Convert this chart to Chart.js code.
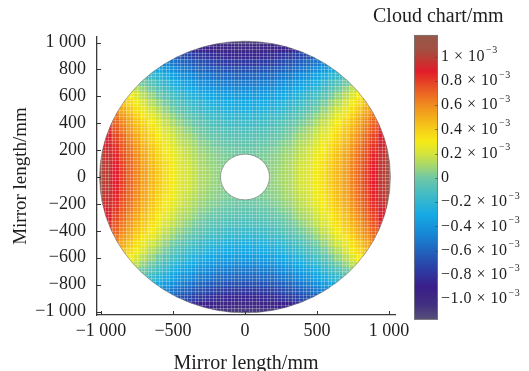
<!DOCTYPE html>
<html>
<head>
<meta charset="utf-8">
<script src="https://cdn.jsdelivr.net/npm/chart.js@4.4.1/dist/chart.umd.min.js"></script>
<style>
  html, body { margin: 0; padding: 0; background: #ffffff; overflow: hidden; }
  canvas { display: block; }
</style>
</head>
<body>
<canvas id="mirror" width="529" height="371"></canvas>
<script>
// Mesh node coordinates of the mirror surface (mm)
const gridX = [-1000,-950,-900,-850,-800,-750,-700,-650,-600,-550,-500,-450,-400,-350,-300,-250,-200,-150,-100,-50,0,
               50,100,150,200,250,300,350,400,450,500,550,600,650,700,750,800,850,900,950,1000];
const gridY = [1000,950,900,850,800,750,700,650,600,550,500,450,400,350,300,250,200,150,100,50,0,
               -50,-100,-150,-200,-250,-300,-350,-400,-450,-500,-550,-600,-650,-700,-750,-800,-850,-900,-950,-1000];

// Surface deviation at each mesh cell, in units of 0.01 × 10⁻³ mm (null = no glass)
const surface = [
  [null,null,null,null,null,null,null,null,null,null,null,null,null,null,null,-102,-105,-107,-108,-109,-109,-109,-108,-107,-105,-102,null,null,null,null,null,null,null,null,null,null,null,null,null,null,null],
  [null,null,null,null,null,null,null,null,null,null,null,null,-81,-85,-89,-92,-94,-96,-97,-98,-98,-98,-97,-96,-94,-92,-89,-85,-81,null,null,null,null,null,null,null,null,null,null,null,null],
  [null,null,null,null,null,null,null,null,null,null,-61,-66,-71,-75,-78,-81,-84,-85,-87,-87,-88,-87,-87,-85,-84,-81,-78,-75,-71,-66,-61,null,null,null,null,null,null,null,null,null,null],
  [null,null,null,null,null,null,null,null,-40,-46,-52,-57,-61,-65,-68,-71,-74,-76,-77,-78,-78,-78,-77,-76,-74,-71,-68,-65,-61,-57,-52,-46,-40,null,null,null,null,null,null,null,null],
  [null,null,null,null,null,null,null,-24,-31,-37,-42,-47,-52,-56,-59,-62,-64,-66,-68,-68,-69,-68,-68,-66,-64,-62,-59,-56,-52,-47,-42,-37,-31,-24,null,null,null,null,null,null,null],
  [null,null,null,null,null,null,-9,-16,-22,-28,-34,-39,-43,-47,-51,-53,-56,-58,-59,-60,-60,-60,-59,-58,-56,-53,-51,-47,-43,-39,-34,-28,-22,-16,-9,null,null,null,null,null,null],
  [null,null,null,null,null,7,0,-8,-14,-20,-26,-31,-35,-39,-42,-45,-48,-50,-51,-52,-52,-52,-51,-50,-48,-45,-42,-39,-35,-31,-26,-20,-14,-8,0,7,null,null,null,null,null],
  [null,null,null,null,23,15,7,0,-7,-13,-18,-23,-28,-31,-35,-38,-40,-42,-43,-44,-44,-44,-43,-42,-40,-38,-35,-31,-28,-23,-18,-13,-7,0,7,15,23,null,null,null,null],
  [null,null,null,39,30,22,14,7,0,-6,-11,-16,-21,-24,-28,-31,-33,-35,-36,-37,-37,-37,-36,-35,-33,-31,-28,-24,-21,-16,-11,-6,0,7,14,22,30,39,null,null,null],
  [null,null,null,45,36,28,21,13,7,1,-5,-10,-14,-18,-21,-24,-27,-29,-30,-31,-31,-31,-30,-29,-27,-24,-21,-18,-14,-10,-5,1,7,13,21,28,36,45,null,null,null],
  [null,null,60,51,42,34,26,19,13,7,1,-4,-8,-12,-16,-18,-21,-23,-24,-25,-25,-25,-24,-23,-21,-18,-16,-12,-8,-4,1,7,13,19,26,34,42,51,60,null,null],
  [null,null,65,56,48,39,32,25,18,12,7,2,-3,-7,-10,-13,-15,-17,-19,-19,-20,-19,-19,-17,-15,-13,-10,-7,-3,2,7,12,18,25,32,39,48,56,65,null,null],
  [null,80,70,61,52,44,37,29,23,17,11,6,2,-2,-5,-8,-11,-13,-14,-15,-15,-15,-14,-13,-11,-8,-5,-2,2,6,11,17,23,29,37,44,52,61,70,80,null],
  [null,84,74,65,56,48,41,34,27,21,16,11,6,2,-1,-4,-7,-8,-10,-10,-11,-10,-10,-8,-7,-4,-1,2,6,11,16,21,27,34,41,48,56,65,74,84,null],
  [null,88,78,69,60,52,44,37,31,25,19,14,10,6,2,-1,-3,-5,-6,-7,-7,-7,-6,-5,-3,-1,2,6,10,14,19,25,31,37,44,52,60,69,78,88,null],
  [101,91,81,72,63,55,47,40,34,28,22,17,13,9,5,3,0,-2,-3,-4,-4,-4,-3,-2,0,3,5,9,13,17,22,28,34,40,47,55,63,72,81,91,101],
  [104,93,84,74,66,58,50,43,36,30,25,20,15,11,8,5,3,1,0,-1,-1,-1,0,1,3,5,8,11,15,20,25,30,36,43,50,58,66,74,84,93,104],
  [105,95,86,76,68,60,52,45,38,32,27,22,17,13,10,7,5,3,2,1,0,1,2,3,5,7,10,13,17,22,27,32,38,45,52,60,68,76,86,95,105],
  [107,97,87,78,69,61,53,46,40,34,28,23,19,15,11,8,6,4,3,null,null,null,3,4,6,8,11,15,19,23,28,34,40,46,53,61,69,78,87,97,107],
  [108,97,88,79,70,62,54,47,41,34,29,24,20,16,12,9,7,5,null,null,null,null,null,5,7,9,12,16,20,24,29,34,41,47,54,62,70,79,88,97,108],
  [108,98,88,79,70,62,54,47,41,35,29,24,20,16,12,10,7,5,null,null,null,null,null,5,7,10,12,16,20,24,29,35,41,47,54,62,70,79,88,98,108],
  [108,97,88,79,70,62,54,47,41,34,29,24,20,16,12,9,7,5,null,null,null,null,null,5,7,9,12,16,20,24,29,34,41,47,54,62,70,79,88,97,108],
  [107,97,87,78,69,61,53,46,40,34,28,23,19,15,11,8,6,4,3,null,null,null,3,4,6,8,11,15,19,23,28,34,40,46,53,61,69,78,87,97,107],
  [105,95,86,76,68,60,52,45,38,32,27,22,17,13,10,7,5,3,2,1,0,1,2,3,5,7,10,13,17,22,27,32,38,45,52,60,68,76,86,95,105],
  [104,93,84,74,66,58,50,43,36,30,25,20,15,11,8,5,3,1,0,-1,-1,-1,0,1,3,5,8,11,15,20,25,30,36,43,50,58,66,74,84,93,104],
  [101,91,81,72,63,55,47,40,34,28,22,17,13,9,5,3,0,-2,-3,-4,-4,-4,-3,-2,0,3,5,9,13,17,22,28,34,40,47,55,63,72,81,91,101],
  [null,88,78,69,60,52,44,37,31,25,19,14,10,6,2,-1,-3,-5,-6,-7,-7,-7,-6,-5,-3,-1,2,6,10,14,19,25,31,37,44,52,60,69,78,88,null],
  [null,84,74,65,56,48,41,34,27,21,16,11,6,2,-1,-4,-7,-8,-10,-10,-11,-10,-10,-8,-7,-4,-1,2,6,11,16,21,27,34,41,48,56,65,74,84,null],
  [null,80,70,61,52,44,37,29,23,17,11,6,2,-2,-5,-8,-11,-13,-14,-15,-15,-15,-14,-13,-11,-8,-5,-2,2,6,11,17,23,29,37,44,52,61,70,80,null],
  [null,null,65,56,48,39,32,25,18,12,7,2,-3,-7,-10,-13,-15,-17,-19,-19,-20,-19,-19,-17,-15,-13,-10,-7,-3,2,7,12,18,25,32,39,48,56,65,null,null],
  [null,null,60,51,42,34,26,19,13,7,1,-4,-8,-12,-16,-18,-21,-23,-24,-25,-25,-25,-24,-23,-21,-18,-16,-12,-8,-4,1,7,13,19,26,34,42,51,60,null,null],
  [null,null,null,45,36,28,21,13,7,1,-5,-10,-14,-18,-21,-24,-27,-29,-30,-31,-31,-31,-30,-29,-27,-24,-21,-18,-14,-10,-5,1,7,13,21,28,36,45,null,null,null],
  [null,null,null,39,30,22,14,7,0,-6,-11,-16,-21,-24,-28,-31,-33,-35,-36,-37,-37,-37,-36,-35,-33,-31,-28,-24,-21,-16,-11,-6,0,7,14,22,30,39,null,null,null],
  [null,null,null,null,23,15,7,0,-7,-13,-18,-23,-28,-31,-35,-38,-40,-42,-43,-44,-44,-44,-43,-42,-40,-38,-35,-31,-28,-23,-18,-13,-7,0,7,15,23,null,null,null,null],
  [null,null,null,null,null,7,0,-8,-14,-20,-26,-31,-35,-39,-42,-45,-48,-50,-51,-52,-52,-52,-51,-50,-48,-45,-42,-39,-35,-31,-26,-20,-14,-8,0,7,null,null,null,null,null],
  [null,null,null,null,null,null,-9,-16,-22,-28,-34,-39,-43,-47,-51,-53,-56,-58,-59,-60,-60,-60,-59,-58,-56,-53,-51,-47,-43,-39,-34,-28,-22,-16,-9,null,null,null,null,null,null],
  [null,null,null,null,null,null,null,-24,-31,-37,-42,-47,-52,-56,-59,-62,-64,-66,-68,-68,-69,-68,-68,-66,-64,-62,-59,-56,-52,-47,-42,-37,-31,-24,null,null,null,null,null,null,null],
  [null,null,null,null,null,null,null,null,-40,-46,-52,-57,-61,-65,-68,-71,-74,-76,-77,-78,-78,-78,-77,-76,-74,-71,-68,-65,-61,-57,-52,-46,-40,null,null,null,null,null,null,null,null],
  [null,null,null,null,null,null,null,null,null,null,-61,-66,-71,-75,-78,-81,-84,-85,-87,-87,-88,-87,-87,-85,-84,-81,-78,-75,-71,-66,-61,null,null,null,null,null,null,null,null,null,null],
  [null,null,null,null,null,null,null,null,null,null,null,null,-81,-85,-89,-92,-94,-96,-97,-98,-98,-98,-97,-96,-94,-92,-89,-85,-81,null,null,null,null,null,null,null,null,null,null,null,null],
  [null,null,null,null,null,null,null,null,null,null,null,null,null,null,null,-102,-105,-107,-108,-109,-109,-109,-108,-107,-105,-102,null,null,null,null,null,null,null,null,null,null,null,null,null,null,null]
];

// Mirror aperture (mm)
const mirrorRadius = 1010;
const holeRadius = 170;

// Axis ticks
const xTickValues = [-1000, -500, 0, 500, 1000];
const xTickLabels = ['−1 000', '−500', '0', '500', '1 000'];
const yTickValues = [-1000, -800, -600, -400, -200, 0, 200, 400, 600, 800, 1000];
const yTickLabels = ['−1 000', '−800', '−600', '−400', '−200', '0', '200', '400', '600', '800', '1 000'];

// Colour bar ticks (× 10⁻³ mm): mantissa text and the shared power-of-ten exponent
const cbTickValues = [-1.0, -0.8, -0.6, -0.4, -0.2, 0, 0.2, 0.4, 0.6, 0.8, 1.0];
const cbTickLabels = ['−1.0 × 10', '−0.8 × 10', '−0.6 × 10', '−0.4 × 10', '−0.2 × 10', '0',
                      '0.2 × 10', '0.4 × 10', '0.6 × 10', '0.8 × 10', '1 × 10'];
const cbExponent = '−3';
const cbRange = [-1.17, 1.18];

const xTitle = 'Mirror length/mm';
const yTitle = 'Mirror length/mm';
const cbTitle = 'Cloud chart/mm';

// Colour map: [value (× 10⁻³ mm), r, g, b]
const colorStops = [
  [-1.17,  88,  80, 122],
  [-1.05,  66,  48, 128],
  [-0.90,  58,  30, 138],
  [-0.75,  44,  62, 165],
  [-0.60,  32, 100, 190],
  [-0.45,  22, 138, 214],
  [-0.30,  22, 170, 228],
  [-0.15,  62, 186, 200],
  [ 0.00, 112, 200, 165],
  [ 0.10, 165, 215, 110],
  [ 0.20, 212, 228,  60],
  [ 0.30, 246, 234,  22],
  [ 0.45, 246, 190,  26],
  [ 0.60, 240, 140,  32],
  [ 0.75, 232,  82,  36],
  [ 0.88, 226,  28,  42],
  [ 0.97, 192,  56,  50],
  [ 1.06, 162,  80,  66],
  [ 1.18, 150,  88,  72]
];

function colorFor(v) {
  if (v <= colorStops[0][0]) return `rgb(${colorStops[0][1]},${colorStops[0][2]},${colorStops[0][3]})`;
  for (let k = 1; k < colorStops.length; k++) {
    const a = colorStops[k - 1], b = colorStops[k];
    if (v <= b[0]) {
      const t = (v - a[0]) / (b[0] - a[0]);
      const c = [1, 2, 3].map(n => Math.round(a[n] + (b[n] - a[n]) * t));
      return `rgb(${c[0]},${c[1]},${c[2]})`;
    }
  }
  const l = colorStops[colorStops.length - 1];
  return `rgb(${l[1]},${l[2]},${l[3]})`;
}

const serif = '"Liberation Serif", "Times New Roman", Times, serif';
const textColor = '#1e1e1e';
Chart.defaults.font.family = serif;
Chart.defaults.color = textColor;

// Clip path of the annular mirror, in pixels
function annulusPath(ctx, xs, ys) {
  const cx = xs.getPixelForValue(0), cy = ys.getPixelForValue(0);
  const rx = xs.getPixelForValue(mirrorRadius) - cx;
  const ry = cy - ys.getPixelForValue(mirrorRadius);
  const hx = xs.getPixelForValue(holeRadius) - cx;
  const hy = cy - ys.getPixelForValue(holeRadius);
  ctx.beginPath();
  ctx.ellipse(cx, cy, rx, ry, 0, 0, Math.PI * 2);
  ctx.moveTo(cx + hx, cy);
  ctx.ellipse(cx, cy, hx, hy, 0, 0, Math.PI * 2, true);
}

const surfacePlugin = {
  id: 'surfaceCells',
  beforeDatasetsDraw(chart) {
    const { ctx } = chart;
    const xs = chart.scales.x, ys = chart.scales.y;
    const halfX = (gridX[1] - gridX[0]) / 2;
    const halfY = Math.abs(gridY[0] - gridY[1]) / 2;
    ctx.save();
    annulusPath(ctx, xs, ys);
    ctx.clip('evenodd');
    surface.forEach((row, j) => {
      row.forEach((v, i) => {
        if (v === null) return;
        const l = xs.getPixelForValue(gridX[i] - halfX);
        const r = xs.getPixelForValue(gridX[i] + halfX);
        const t = ys.getPixelForValue(gridY[j] + halfY);
        const b = ys.getPixelForValue(gridY[j] - halfY);
        ctx.fillStyle = colorFor(v / 100);
        ctx.fillRect(Math.floor(l), Math.floor(t), Math.ceil(r - l) + 1, Math.ceil(b - t) + 1);
      });
    });
    // fine mesh lines of the finite-element grid
    ctx.strokeStyle = 'rgba(255,255,255,0.26)';
    ctx.lineWidth = 1;
    ctx.beginPath();
    for (let m = -1025; m <= 1025; m += 25) {
      const px = Math.round(xs.getPixelForValue(m)) + 0.5;
      ctx.moveTo(px, ys.top); ctx.lineTo(px, ys.bottom);
      const py = Math.round(ys.getPixelForValue(m)) + 0.5;
      ctx.moveTo(xs.left, py); ctx.lineTo(xs.right, py);
    }
    ctx.stroke();
    ctx.restore();
    // aperture outlines
    ctx.save();
    annulusPath(ctx, xs, ys);
    ctx.strokeStyle = 'rgba(110,110,110,0.55)';
    ctx.lineWidth = 1;
    ctx.stroke();
    ctx.restore();
  },
  afterDraw(chart) {
    const { ctx } = chart;
    const xs = chart.scales.x, ys = chart.scales.y, cb = chart.scales.cb;
    ctx.save();
    // inward tick marks on the frame axes
    ctx.strokeStyle = '#333';
    ctx.lineWidth = 1;
    ctx.beginPath();
    xs.ticks.forEach(t => {
      const px = Math.round(xs.getPixelForValue(t.value)) + 0.5;
      ctx.moveTo(px, xs.top); ctx.lineTo(px, xs.top - 4);
    });
    ys.ticks.forEach(t => {
      const py = Math.round(ys.getPixelForValue(t.value)) + 0.5;
      ctx.moveTo(ys.right, py); ctx.lineTo(ys.right + 4, py);
    });
    ctx.stroke();

    // colour bar
    const barL = cb.left + 19, barR = cb.left + 43;
    const top = cb.getPixelForValue(cbRange[1]);
    const bot = cb.getPixelForValue(cbRange[0]);
    const grad = ctx.createLinearGradient(0, bot, 0, top);
    colorStops.forEach(s => {
      const f = (s[0] - cbRange[0]) / (cbRange[1] - cbRange[0]);
      grad.addColorStop(Math.min(1, Math.max(0, f)), `rgb(${s[1]},${s[2]},${s[3]})`);
    });
    ctx.fillStyle = grad;
    ctx.fillRect(barL, top, barR - barL, bot - top);
    ctx.strokeStyle = 'rgba(120,120,120,0.8)';
    ctx.strokeRect(barL + 0.5, Math.round(top) + 0.5, barR - barL - 1, Math.round(bot - top) - 1);
    ctx.strokeStyle = 'rgba(70,70,70,0.6)';
    ctx.beginPath();
    cb.ticks.forEach(t => {
      const py = Math.round(cb.getPixelForValue(t.value)) + 0.5;
      ctx.moveTo(barR - 3, py); ctx.lineTo(barR, py);
    });
    ctx.stroke();

    // colour bar tick labels with superscript exponent
    ctx.fillStyle = textColor;
    ctx.textAlign = 'left';
    ctx.textBaseline = 'middle';
    if ('letterSpacing' in ctx) ctx.letterSpacing = '0.5px';
    cb.ticks.forEach((t, i) => {
      const py = cb.getPixelForValue(t.value);
      const lx = barR + 3;
      ctx.font = `16px ${serif}`;
      ctx.fillText(cbTickLabels[i], lx, py);
      if (cbTickValues[i] !== 0) {
        const w = ctx.measureText(cbTickLabels[i]).width;
        ctx.font = `10px ${serif}`;
        ctx.fillText(cbExponent, lx + w + 1, py - 6);
      }
    });
    if ('letterSpacing' in ctx) ctx.letterSpacing = '0px';

    // colour bar heading
    ctx.font = `20px ${serif}`;
    ctx.fillText(cbTitle, barL - 41, 17);
    ctx.restore();
  }
};

const tickFont = { family: serif, size: 18 };

new Chart(document.getElementById('mirror'), {
  type: 'scatter',
  data: { datasets: [{ data: [] }] },
  options: {
    responsive: false,
    devicePixelRatio: 1,
    animation: false,
    layout: { padding: { top: 37, left: 0, right: 0, bottom: 0 } },
    plugins: { legend: { display: false }, tooltip: { enabled: false } },
    scales: {
      x: {
        type: 'linear', position: 'bottom', min: -1028, max: 1042,
        afterBuildTicks: s => { s.ticks = xTickValues.map(v => ({ value: v })); },
        afterFit: s => { s.height = 56; },
        ticks: { callback: (v, i) => xTickLabels[i], font: tickFont, color: textColor, padding: 0, autoSkip: false, maxRotation: 0 },
        grid: { display: false, drawTicks: true, tickLength: 5 },
        border: { display: true, color: '#3a3a3a', width: 1.3 },
        title: { display: true, text: xTitle, font: { family: serif, size: 20, lineHeight: 1 }, color: textColor, padding: { top: 0, bottom: -3 } }
      },
      y: {
        type: 'linear', position: 'left', min: -1026, max: 1041,
        afterBuildTicks: s => { s.ticks = yTickValues.map(v => ({ value: v })); },
        afterFit: s => { s.width = 97; },
        ticks: { callback: (v, i) => yTickLabels[i], font: tickFont, color: textColor, padding: 0, autoSkip: false },
        grid: { display: false, drawTicks: true, tickLength: 11 },
        border: { display: true, color: '#3a3a3a', width: 1.3 },
        title: { display: true, text: yTitle, font: { family: serif, size: 19, lineHeight: 1 }, color: textColor, padding: { top: 12, bottom: 0 } }
      },
      cb: {
        type: 'linear', axis: 'y', position: 'right', min: -1.132, max: 1.163,
        afterBuildTicks: s => { s.ticks = cbTickValues.map(v => ({ value: v })); },
        afterFit: s => { s.width = 134; },
        ticks: { display: false },
        grid: { display: false, drawTicks: false },
        border: { display: false }
      }
    }
  },
  plugins: [surfacePlugin]
});
</script>
</body>
</html>
